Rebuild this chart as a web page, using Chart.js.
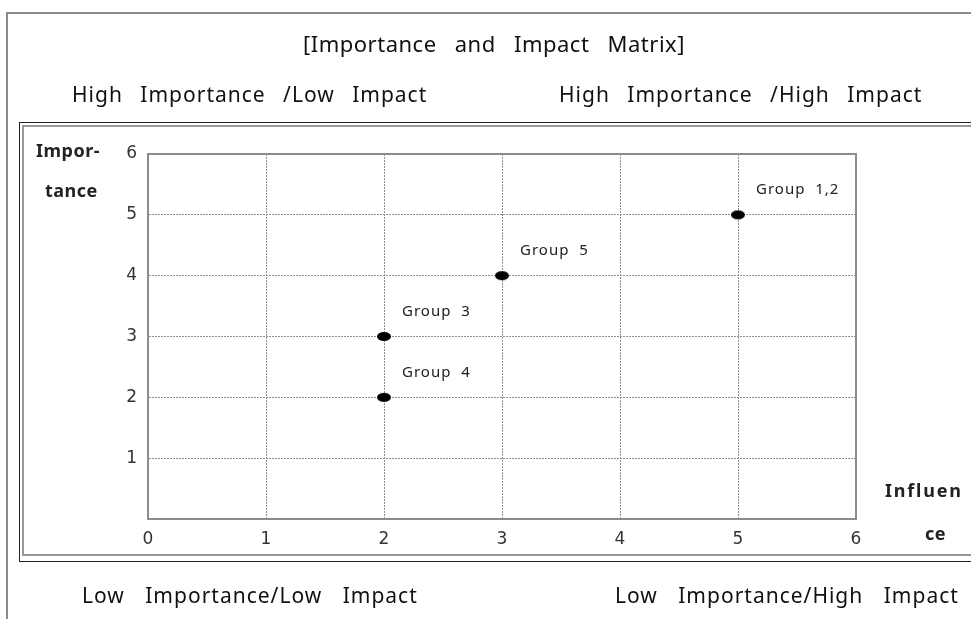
<!DOCTYPE html>
<html>
<head>
<meta charset="utf-8">
<script src="https://cdn.jsdelivr.net/npm/chart.js@4/dist/chart.umd.min.js"></script>
<style>
  html, body { margin: 0; padding: 0; background: #fff; overflow: hidden; }
  body { width: 971px; height: 619px; position: relative; font-family: "Noto Sans", sans-serif; color: #111; }
  .frame-outer { position: absolute; left: 6px; top: 12px; width: 1000px; height: 700px; border: 2px solid #8a8a8a; box-sizing: border-box; }
  .frame-inner { position: absolute; left: 19px; top: 122px; width: 1000px; height: 440px; border: 1px solid #222; box-sizing: border-box; }
  .frame-inner2 { position: absolute; left: 22px; top: 125px; width: 1000px; height: 431px; border: 2px solid #999; box-sizing: border-box; }
  #chart { position: absolute; left: 0; top: 0; }
  .t { position: absolute; white-space: pre; line-height: 1; }
  .title { font-size: 22px; letter-spacing: 0.5px; word-spacing: 12px; }
  .quad { font-size: 21px; letter-spacing: 1px; word-spacing: 11px; }
  .quad.low { word-spacing: 14px; }
  .axt { font-size: 18px; font-weight: bold; color: #222; letter-spacing: 0.5px; }
  .axt.wide { letter-spacing: 1.8px; }
</style>
</head>
<body>
<div class="frame-outer"></div>
<div class="frame-inner"></div>
<div class="frame-inner2"></div>
<canvas id="chart" width="971" height="619"></canvas>

<div class="t title" style="left:303px; top:32px;">[Importance and Impact Matrix]</div>
<div class="t quad" style="left:72px; top:84px;">High Importance /Low Impact</div>
<div class="t quad" style="left:559px; top:84px;">High Importance /High Impact</div>
<div class="t quad low" style="left:82px; top:585px;">Low Importance/Low Impact</div>
<div class="t quad low" style="left:615px; top:585px;">Low Importance/High Impact</div>
<div class="t axt" style="left:36px; top:141px;">Impor-</div>
<div class="t axt" style="left:45px; top:181px;">tance</div>
<div class="t axt wide" style="left:885px; top:481px;">Influen</div>
<div class="t axt" style="left:925px; top:524px;">ce</div>

<script>
const groups = ['Group 1,2', 'Group 5', 'Group 3', 'Group 4'];
const influence = [5, 3, 2, 2];
const importance = [5, 4, 3, 2];
const xTicks = [0, 1, 2, 3, 4, 5, 6];
const yTicks = [0, 1, 2, 3, 4, 5, 6];

const points = groups.map((g, i) => ({ x: influence[i], y: importance[i], label: g }));

// black oval marker
const dot = document.createElement('canvas');
dot.width = 16; dot.height = 11;
const dctx = dot.getContext('2d');
dctx.fillStyle = '#000';
dctx.beginPath();
dctx.ellipse(8, 5.5, 7, 4.5, 0, 0, Math.PI * 2);
dctx.fill();

const boxPlugin = {
    id: 'box',
    afterDraw(chart) {
        const { ctx, chartArea: a } = chart;
        ctx.save();
        ctx.strokeStyle = '#8c8c8c';
        ctx.lineWidth = 2;
        ctx.strokeRect(a.left, a.top, a.right - a.left, a.bottom - a.top);
        ctx.restore();
    }
};

const labelPlugin = {
    id: 'groupLabels',
    afterDatasetsDraw(chart) {
        const { ctx } = chart;
        const meta = chart.getDatasetMeta(0);
        ctx.save();
        ctx.font = '15px "Noto Sans"';
        ctx.letterSpacing = '1px';
        ctx.fillStyle = '#222';
        ctx.textBaseline = 'middle';
        meta.data.forEach((el, i) => {
            const txt = points[i].label.replace(' ', '  ');
            ctx.fillText(txt, el.x + 18, el.y - 25);
        });
        ctx.restore();
    }
};

new Chart(document.getElementById('chart'), {
    type: 'scatter',
    data: {
        datasets: [{
            data: points,
            pointStyle: dot,
            pointRadius: 6,
            pointHoverRadius: 6,
        }]
    },
    options: {
        responsive: false,
        animation: false,
        devicePixelRatio: 1,
        layout: { padding: { left: 0, top: 154, right: 115, bottom: 0 } },
        plugins: {
            legend: { display: false },
            tooltip: { enabled: false },
        },
        scales: {
            x: {
                type: 'linear',
                min: 0, max: 6,
                afterBuildTicks: s => { s.ticks = xTicks.map(v => ({ value: v })); },
                afterFit: s => { s.height = 100; },
                ticks: {
                    padding: 10,
                    color: '#333',
                    font: { family: 'DejaVu Sans', size: 17 },
                },
                grid: { color: '#8f8f8f', drawTicks: false },
                border: { display: true, color: '#8c8c8c', width: 2, dash: [2, 1] },
            },
            y: {
                type: 'linear',
                min: 0, max: 6,
                afterBuildTicks: s => { s.ticks = yTicks.map(v => ({ value: v })); },
                afterFit: s => { s.width = 148; },
                ticks: {
                    padding: 11,
                    color: '#333',
                    font: { family: 'DejaVu Sans', size: 17 },
                    callback: v => (v === 0 ? '' : v),
                },
                grid: { color: '#8f8f8f', drawTicks: false },
                border: { display: true, color: '#8c8c8c', width: 2, dash: [2, 1] },
            }
        }
    },
    plugins: [boxPlugin, labelPlugin]
});
</script>
</body>
</html>
